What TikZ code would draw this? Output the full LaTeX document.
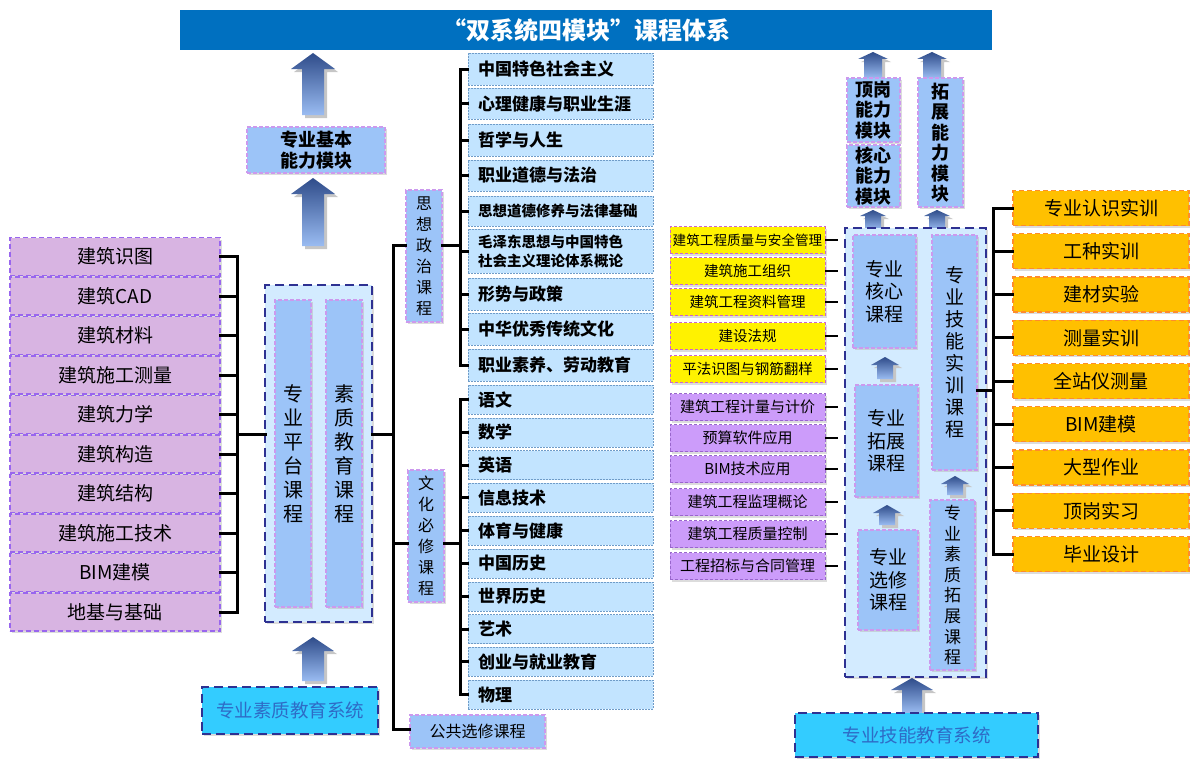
\documentclass[tikz,border=0pt]{standalone}
\usepackage{fontspec}
\setmainfont{Noto Sans CJK SC}
\usetikzlibrary{shadows}
\definecolor{titleblue}{HTML}{0070C0}
\definecolor{lav}{HTML}{D8B4E2}
\definecolor{lavb}{HTML}{9966EE}
\definecolor{lstf}{HTML}{C2E4FF}
\definecolor{lstb}{HTML}{6F9CC8}
\definecolor{tagf}{HTML}{9CC4F8}
\definecolor{pinkb}{HTML}{CC99EE}
\definecolor{outf}{HTML}{D3EBFF}
\definecolor{navy}{HTML}{2E3192}
\definecolor{cyanf}{HTML}{33CCFF}
\definecolor{syst}{HTML}{2E6BC6}
\definecolor{yelb}{HTML}{CC66CC}
\definecolor{purf}{HTML}{CC9CFA}
\definecolor{purb}{HTML}{9966CC}
\definecolor{orgf}{HTML}{FFC000}
\definecolor{orgb}{HTML}{FF8C2A}
\definecolor{arrtop}{HTML}{2F4C8A}
\definecolor{arrbot}{HTML}{9ABCF2}
\newcommand{\bx}[7]{\node[#2, minimum width={(#5)-(#3)}, minimum height={(#6)-(#4)}] (#1) at ({((#3)+(#5))/2},{((#4)+(#6))/2}) {#7};}
\newcommand{\blkarrow}[6]{%
  \fill[gray!45] ({#1-#4+3},{#3+3}) -- ({#1-#4+3},{#2+#6+3}) -- ({#1-#5+3},{#2+#6+3}) -- ({#1+3},{#2+3}) -- ({#1+#5+3},{#2+#6+3}) -- ({#1+#4+3},{#2+#6+3}) -- ({#1+#4+3},{#3+3}) -- cycle;
  \shade[top color=arrtop, bottom color=arrbot] ({#1-#4},{#3}) -- ({#1-#4},{#2+#6}) -- ({#1-#5},{#2+#6}) -- (#1,#2) -- ({#1+#5},{#2+#6}) -- ({#1+#4},{#2+#6}) -- ({#1+#4},{#3}) -- cycle;}
\begin{document}
\begin{tikzpicture}[x=1pt,y=-1pt,
  base/.style={inner sep=0pt, align=center},
  shad/.style={drop shadow={shadow xshift=2pt,shadow yshift=-2pt,fill=gray!55}},
  lavbox/.style={base, shad, fill=lav, draw=lavb, dash pattern=on 5pt off 3pt, line width=1.2pt, font=\fontsize{19}{21}\selectfont},
  lst/.style={base, fill=lstf, draw=lstb, dash pattern=on 2pt off 1pt, line width=0.6pt, align=left, inner xsep=10pt, font=\bfseries\fontsize{17}{19}\selectfont},
  tag/.style={base, shad, fill=tagf, draw=pinkb, dash pattern=on 4pt off 2pt, line width=1.2pt, font=\fontsize{16}{21}\selectfont},
  outer/.style={base, shad, fill=outf, draw=navy, line width=2.8pt, dash pattern=on 9pt off 5pt},
  inner/.style={base, shad, fill=tagf, draw=pinkb, dash pattern=on 4pt off 2pt, line width=1.2pt},
  sys/.style={base, shad, fill=cyanf, draw=navy, line width=2.8pt, dash pattern=on 9pt off 5pt, text=syst, font=\fontsize{18.5}{20}\selectfont},
  yel/.style={base, shad, fill=yellow, draw=yelb, dash pattern=on 3pt off 2pt, line width=0.8pt, font=\fontsize{14.5}{16}\selectfont},
  pur/.style={base, shad, fill=purf, draw=purb, dash pattern=on 3pt off 2pt, line width=0.8pt, font=\fontsize{15}{16}\selectfont},
  org/.style={base, shad, fill=orgf, draw=orgb, dash pattern=on 5pt off 3pt, line width=1.2pt, font=\fontsize{19}{21}\selectfont},
  mod/.style={base, shad, fill=tagf, draw=pinkb, dash pattern=on 4pt off 2pt, line width=1.2pt, font=\bfseries\fontsize{18}{20.5}\selectfont},
  conn/.style={line width=3pt, black, line cap=rect},
  thin conn/.style={line width=2.4pt, black}
]
\useasboundingbox (0,0) rectangle (1190,760);

% title
\bx{title}{base, fill=titleblue, text=white, font=\bfseries\fontsize{24}{26}\selectfont}{180}{10}{992}{50}{“双系统四模块”课程体系}

% ---------- left part ----------
\blkarrow{313}{53}{115}{11}{22}{16}
\bx{basic}{mod}{247}{127}{385}{173}{专业基本\\能力模块}
\blkarrow{313}{178}{246}{11}{22}{16}

\foreach \t [count=\i from 0] in {建筑识图,建筑CAD,建筑材料,建筑施工测量,建筑力学,建筑构造,建筑结构,建筑施工技术,BIM建模,地基与基础}{
  \bx{L\i}{lavbox}{10}{237.5+39.5*\i}{220}{275.5+39.5*\i}{\t}
}
\coordinate (lbar) at (237,0);
\foreach \i in {0,...,9}{\draw[conn] (L\i.east) -- (L\i.east -| lbar);}
\draw[conn] (L0.east -| lbar) -- (L9.east -| lbar);

\bx{plat}{outer}{265}{285}{372}{622}{}
\bx{platA}{inner, font=\fontsize{20}{24}\selectfont}{275}{300}{311}{607}{专\\业\\平\\台\\课\\程}
\bx{platB}{inner, font=\fontsize{20}{24}\selectfont}{326}{300}{362}{607}{素\\质\\教\\育\\课\\程}
\coordinate (pjl) at (265,434);
\coordinate (pjr) at (372,434);
\draw[conn] (pjl) -- (pjl -| lbar);

\blkarrow{313}{637}{681}{11}{21}{14}
\bx{sysL}{sys}{202}{687}{378}{734}{专业素质教育系统}

% main spine
\coordinate (spt) at (393,245);
\coordinate (spb) at (393,729);
\draw[conn] (spt) -- (spb);
\draw[conn] (pjr) -- (pjr -| spt);

% political courses
\bx{pol}{tag}{406}{190}{442}{322}{思\\想\\政\\治\\课\\程}
\coordinate (polj) at (442,245);
\draw[conn] (spt) -- (spt -| pol.west);
\coordinate (rbar) at (460,0);
\draw[conn] (polj) -- (polj -| rbar);

\newcommand{\lbx}[6]{\node[lst, text width={(#4)-(#2)-20}, minimum height={(#5)-(#3)}] (#1) at ({((#2)+(#4))/2},{((#3)+(#5))/2}) {#6};}
\lbx{P1}{468}{53}{653}{85}{中国特色社会主义}
\lbx{P2}{468}{88}{653}{119}{心理健康与职业生涯}
\lbx{P3}{468}{124}{653}{156}{哲学与人生}
\lbx{P4}{468}{160}{653}{191}{职业道德与法治}
\lbx{P5}{468}{196}{653}{226}{\fontsize{14.5}{16}\selectfont 思想道德修养与法律基础}
\lbx{P6}{468}{229}{653}{273}{\fontsize{14.5}{18}\selectfont 毛泽东思想与中国特色\\社会主义理论体系概论}
\lbx{P7}{468}{278}{653}{310}{形势与政策}
\lbx{P8}{468}{313}{653}{345}{中华优秀传统文化}
\lbx{P9}{468}{349}{653}{381}{职业素养、劳动教育}
\foreach \i in {1,...,9}{\draw[conn] (P\i.west) -- (P\i.west -| rbar);}
\draw[conn] (P1.west -| rbar) -- (P9.west -| rbar);

% cultural courses
\bx{cul}{tag}{408}{470}{444}{602}{文\\化\\必\\修\\课\\程}
\coordinate (culj) at (444,543);
\draw[conn] (culj -| spt) -- (culj -| cul.west);
\draw[conn] (culj) -- (culj -| rbar);
\foreach \t [count=\i] in {语文,数学,英语,信息技术,体育与健康,中国历史,世界历史,艺术,创业与就业教育,物理}{
  \lbx{C\i}{468}{385+32.8*(\i-1)}{653}{414+32.8*(\i-1)}{\t}
}
\foreach \i in {1,...,10}{\draw[conn] (C\i.west) -- (C\i.west -| rbar);}
\draw[conn] (C1.west -| rbar) -- (C10.west -| rbar);

\bx{pub}{tag}{410}{715}{545}{748}{公共选修课程}
\draw[conn] (spb) -- (spb -| pub.west);

% ---------- right part ----------
\blkarrow{873}{52}{78}{9}{15}{7}
\blkarrow{932}{52}{78}{9}{15}{7}
\bx{m1}{mod}{847}{78}{900}{142}{顶岗\\能力\\模块}
\bx{m2}{mod}{847}{145}{900}{207}{核心\\能力\\模块}
\bx{m3}{mod}{918}{78}{963}{207}{拓\\展\\能\\力\\模\\块}
\blkarrow{873}{210}{230}{8}{13}{6}
\blkarrow{937}{210}{230}{8}{13}{6}

\bx{big}{outer}{845}{228}{986}{677}{}
\bx{core}{inner, font=\fontsize{19}{22.5}\selectfont}{853}{235}{916}{348}{专业\\核心\\课程}
\bx{expd}{inner, font=\fontsize{19}{22.5}\selectfont}{855}{385}{918}{497}{专业\\拓展\\课程}
\bx{elec}{inner, font=\fontsize{19}{22.5}\selectfont}{858}{530}{918}{630}{专业\\选修\\课程}
\bx{skill}{inner, font=\fontsize{19}{22}\selectfont}{932}{235}{977}{470}{专\\业\\技\\能\\实\\训\\课\\程}
\bx{qual}{inner, font=\fontsize{17}{20.6}\selectfont}{930}{500}{975}{670}{专\\业\\素\\质\\拓\\展\\课\\程}
\blkarrow{885}{357}{379}{8}{14}{8}
\blkarrow{887}{505}{525}{8}{14}{8}
\blkarrow{955}{476}{495}{8}{14}{8}

\blkarrow{912}{678}{713}{10}{21}{12}
\bx{sysR}{sys}{795}{713}{1038}{757}{专业技能教育系统}

% yellow / purple lists
\foreach \t/\c [count=\i] in {{\fontsize{13.6}{16}\selectfont 建筑工程质量与安全管理}/240,建筑施工组织/271,建筑工程资料管理/302,建设法规/336,平法识图与钢筋翻样/369}{
  \bx{Y\i}{yel}{670}{\c-13.5}{825}{\c+13.5}{\t}
}
\foreach \t/\c [count=\i] in {建筑工程计量与计价/407,预算软件应用/438,BIM技术应用/469,建筑工程监理概论/502,建筑工程质量控制/534,工程招标与合同管理/566}{
  \bx{U\i}{pur}{670}{\c-13.5}{825}{\c+13.5}{\t}
}
\coordinate (stub) at (838,0);
\foreach \i in {1,...,5}{\draw[thin conn] (Y\i.east) -- (Y\i.east -| stub);}
\foreach \i in {1,...,6}{\draw[thin conn] (U\i.east) -- (U\i.east -| stub);}

% orange list
\foreach \t [count=\i from 0] in {专业认识实训,工种实训,建材实验,测量实训,全站仪测量,BIM建模,大型作业,顶岗实习,毕业设计}{
  \bx{O\i}{org}{1013}{190.5+43.25*\i}{1189}{225.5+43.25*\i}{\t}
}
\coordinate (obar) at (993,0);
\foreach \i in {0,...,8}{\draw[conn] (O\i.west) -- (O\i.west -| obar);}
\draw[conn] (O0.west -| obar) -- (O8.west -| obar);
\coordinate (skj) at (977,390);
\draw[conn] (skj) -- (skj -| obar);
\end{tikzpicture}
\end{document}
